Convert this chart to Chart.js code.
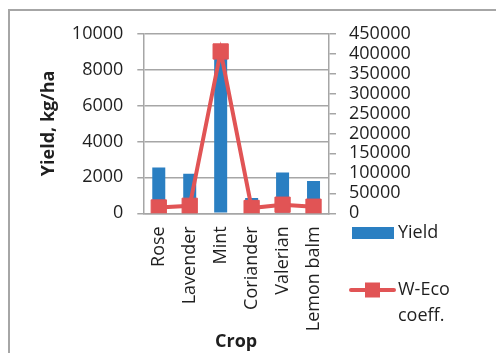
<!DOCTYPE html>
<html>
<head>
<meta charset="utf-8">
<script src="https://cdn.jsdelivr.net/npm/chart.js@4"></script>
<style>
  html, body { margin: 0; padding: 0; background: #fff; overflow: hidden; }
  #wrap { position: relative; width: 496px; height: 353px; }
  #frame { position: absolute; left: 8px; top: 9px; width: 600px; height: 500px;
           border: 2px solid #a6a6a6; box-sizing: border-box; }
  canvas { position: absolute; left: 0; top: 0; }
</style>
</head>
<body>
<div id="wrap">
  <div id="frame"></div>
  <canvas id="c" width="496" height="353"></canvas>
</div>
<script>
// Crops and measured values
const crops = ['Rose', 'Lavender', 'Mint', 'Coriander', 'Valerian', 'Lemon balm'];
const yieldKgHa = [2550, 2200, 8800, 850, 2270, 1800];
const wEcoCoeff = [14500, 18800, 405000, 13300, 21500, 16500];

// Axis ranges
const yieldAxis = { min: 0, max: 10000, step: 2000 };
const coeffAxis = { min: 0, max: 450000, step: 50000 };

const seriesNames = ['Yield', ['W-Eco', 'coeff.']];
const BLUE = '#2a7fc2';
const RED = '#e15455';
const TEXT = '#1f1f1f';
const GRID = '#a6a6a6';
const FONT = "'Open Sans', sans-serif";
const FS = 18;

// Legend drawn beside the right-hand axis
const sideLegend = {
  id: 'sideLegend',
  afterDraw(chart) {
    const ctx = chart.ctx;
    ctx.save();
    ctx.font = FS + 'px ' + FONT;
    ctx.textBaseline = 'middle';
    ctx.textAlign = 'left';
    // bar entry
    ctx.fillStyle = chart.data.datasets[0].backgroundColor;
    ctx.fillRect(352, 227, 42, 12);
    ctx.fillStyle = TEXT;
    ctx.fillText(chart.data.datasets[0].label, 398, 233);
    // line entry
    const ds = chart.data.datasets[1];
    ctx.strokeStyle = ds.borderColor;
    ctx.lineWidth = 4;
    ctx.lineCap = 'round';
    ctx.beginPath();
    ctx.moveTo(351, 290);
    ctx.lineTo(394, 290);
    ctx.stroke();
    ctx.fillStyle = ds.borderColor;
    ctx.fillRect(365, 282.5, 15, 15);
    ctx.fillStyle = TEXT;
    ds.label.forEach((t, i) => ctx.fillText(t, 398, 290 + i * 26));
    ctx.restore();
  }
};

new Chart(document.getElementById('c'), {
  data: {
    labels: crops,
    datasets: [
      {
        type: 'bar',
        label: seriesNames[0],
        data: yieldKgHa,
        backgroundColor: BLUE,
        yAxisID: 'y',
        barPercentage: 0.42,
        categoryPercentage: 1.0,
        order: 2
      },
      {
        type: 'line',
        label: seriesNames[1],
        data: wEcoCoeff,
        borderColor: RED,
        backgroundColor: RED,
        borderWidth: 4,
        pointStyle: 'rect',
        pointRadius: 10.8,
        pointBorderWidth: 1,
        pointBackgroundColor: RED,
        pointBorderColor: RED,
        tension: 0,
        yAxisID: 'y1',
        order: 1
      }
    ]
  },
  options: {
    responsive: false,
    animation: false,
    events: [],
    layout: { padding: { top: 33.5, left: 0, right: 0, bottom: 0 } },
    plugins: { legend: { display: false }, tooltip: { enabled: false } },
    scales: {
      x: {
        type: 'category',
        offset: true,
        grid: { display: false, drawTicks: false },
        border: { display: true, color: GRID, width: 1.5 },
        ticks: {
          color: TEXT, font: { family: FONT, size: FS },
          minRotation: 90, maxRotation: 90, padding: 13, autoSkip: false
        },
        title: {
          display: true, text: 'Crop', color: TEXT,
          font: { family: FONT, size: FS, weight: 'bold' },
          padding: { top: 0, bottom: 0.5 }
        },
        afterFit(s) { s.height = 353 - 213.3; }
      },
      y: {
        position: 'left',
        min: yieldAxis.min, max: yieldAxis.max,
        grid: { color: GRID, lineWidth: 1.5, tickLength: 6 },
        border: { display: true, color: GRID, width: 1.5 },
        ticks: {
          stepSize: yieldAxis.step, color: TEXT, padding: 14, autoSkip: false,
          font: { family: FONT, size: FS },
          callback: v => String(v)
        },
        title: {
          display: true, text: 'Yield, kg/ha', color: TEXT,
          font: { family: FONT, size: FS, weight: 'bold' },
          padding: { top: 38.2, bottom: 0 }
        },
        afterFit(s) { s.width = 143.3; }
      },
      y1: {
        position: 'right',
        min: coeffAxis.min, max: coeffAxis.max,
        grid: { drawOnChartArea: false, color: GRID, lineWidth: 1.5, tickLength: 7 },
        border: { display: true, color: GRID, width: 1.5 },
        ticks: {
          stepSize: coeffAxis.step, color: TEXT, padding: 13, autoSkip: false,
          font: { family: FONT, size: FS },
          callback: v => String(v)
        },
        afterFit(s) { s.width = 496 - 329; }
      }
    }
  },
  plugins: [sideLegend]
});
</script>
</body>
</html>
